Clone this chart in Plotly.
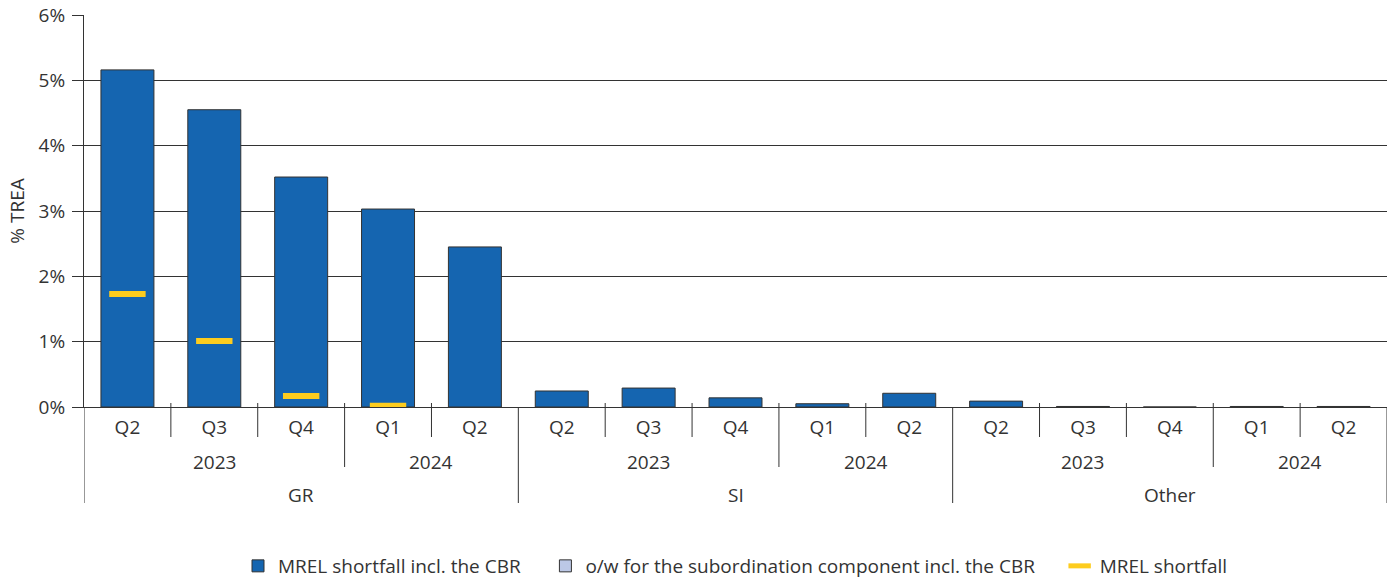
import plotly.graph_objects as go

# ---- data ----
quarters = ["Q2", "Q3", "Q4", "Q1", "Q2"] * 3
years = ["2023", "2024"]
groups = ["GR", "SI", "Other"]
mrel_cbr = [5.16, 4.55, 3.52, 3.03, 2.45,
            0.245, 0.29, 0.14, 0.05, 0.21,
            0.09, 0.008, 0.0, 0.008, 0.008]
subordination = [None] * 15
mrel_shortfall = [1.73, 1.01, 0.17, 0.02, None,
                  None, None, None, None, None,
                  None, None, None, None, None]
y_ticks = [0, 1, 2, 3, 4, 5, 6]

FONT = "Open Sans"
FS = 19
DARK = "#333333"
BLUE = "#1565b0"
LIGHT = "#bcc8e6"
YELLOW = "#fdcc1e"
GAP = "\u00a0" * 4

x = list(range(len(quarters)))

fig = go.Figure()
fig.add_trace(go.Bar(x=x, y=mrel_cbr, name="MREL shortfall incl. the CBR" + GAP,
                     marker=dict(color=BLUE, line=dict(color=DARK, width=1)),
                     width=0.61))
fig.add_trace(go.Bar(x=x, y=subordination,
                     name="o/w for the subordination component incl. the CBR" + GAP,
                     marker=dict(color=LIGHT, line=dict(color=DARK, width=1)),
                     width=0.61))
fig.add_trace(go.Scatter(x=x, y=mrel_shortfall, name="MREL shortfall", mode="markers",
                         marker=dict(symbol="line-ew", size=26,
                                     line=dict(color=YELLOW, width=6))))

shapes = []
plot_h = 392.0
def py(px_below):
    return -px_below / plot_h

# dividers
for i in range(len(quarters) + 1):
    xv = i - 0.5
    if i % 5 == 0:
        y0, y1 = 0, py(96)
    elif i % 5 == 3:
        y0, y1 = 4 / plot_h, py(60)
    else:
        y0, y1 = 4 / plot_h, py(30)
    shapes.append(dict(type="line", xref="x", yref="paper", x0=xv, x1=xv, y0=y0, y1=y1,
                       line=dict(color=DARK, width=1)))

annotations = []
for g, name in enumerate(groups):
    base = g * 5
    for xv, txt, yy in [(base + 1, years[0], 55), (base + 3.5, years[1], 55), (base + 2, name, 88)]:
        annotations.append(dict(x=xv, y=py(yy), xref="x", yref="paper", text=txt,
                                showarrow=False, xanchor="center", yanchor="middle",
                                font=dict(size=FS, color=DARK, family=FONT)))

fig.update_layout(
    width=1394, height=582,
    margin=dict(l=84, r=7, t=15, b=175, autoexpand=False),
    plot_bgcolor="white", paper_bgcolor="white",
    barmode="overlay",
    font=dict(family=FONT, size=FS, color=DARK),
    shapes=shapes, annotations=annotations,
    showlegend=True,
    legend=dict(orientation="h", x=0.5, xanchor="center", y=py(159), yanchor="middle",
                font=dict(size=FS, color=DARK), itemwidth=30, tracegroupgap=0),
)
fig.update_xaxes(range=[-0.5, len(quarters) - 0.5], tickmode="array", tickvals=x,
                 ticktext=quarters, ticks="", showgrid=False, zeroline=False,
                 showline=True, linecolor=DARK, linewidth=1, automargin=False,
                 ticklabelstandoff=3,
                 tickfont=dict(size=FS, color=DARK, family=FONT))
fig.update_yaxes(range=[0, 6], tickmode="array", tickvals=y_ticks,
                 ticktext=[f"{v}%" for v in y_ticks],
                 ticks="outside", ticklen=11, tickcolor=DARK, automargin=False,
                 ticklabelstandoff=3,
                 showgrid=True, gridcolor=DARK, gridwidth=1,
                 showline=True, linecolor=DARK, linewidth=1, zeroline=False,
                 title=dict(text="% TREA", font=dict(size=FS, color=DARK, family=FONT), standoff=8),
                 tickfont=dict(size=FS, color=DARK, family=FONT))

fig.write_html("out.html", config={"displayModeBar": False},
               post_script="document.body.style.margin='0';document.body.style.padding='0';")
